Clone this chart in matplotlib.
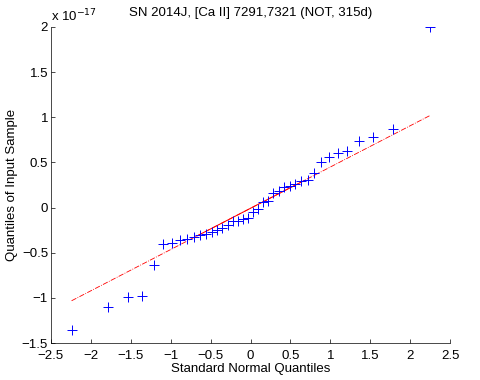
import numpy as np
import matplotlib
matplotlib.use('Agg')
import matplotlib.pyplot as plt

plt.rcParams['font.family'] = ['Liberation Sans', 'DejaVu Sans']

# normal quantiles for n = 40 samples, (i - 0.5)/n
x_q = [-2.241, -1.780, -1.534, -1.356, -1.213, -1.092, -0.984, -0.887, -0.798, -0.714,
       -0.636, -0.561, -0.489, -0.419, -0.352, -0.286, -0.221, -0.157, -0.094, -0.031,
       0.031, 0.094, 0.157, 0.221, 0.286, 0.352, 0.419, 0.489, 0.561, 0.636,
       0.714, 0.798, 0.887, 0.984, 1.092, 1.213, 1.356, 1.534, 1.780, 2.241]

# sorted sample, units of 1e-17
y_s = [-1.356, -1.097, -0.990, -0.974, -0.633, -0.404, -0.393, -0.363, -0.348, -0.330,
       -0.300, -0.289, -0.274, -0.244, -0.226, -0.196, -0.152, -0.145, -0.126, -0.115,
       -0.045, -0.015, 0.063, 0.070, 0.163, 0.181, 0.230, 0.244, 0.260, 0.300,
       0.303, 0.385, 0.510, 0.563, 0.607, 0.626, 0.733, 0.786, 0.874, 2.000]

xtick_labels = ['\u22122.5', '\u22122', '\u22121.5', '\u22121', '\u22120.5', '0',
                '0.5', '1', '1.5', '2', '2.5']
ytick_labels = ['\u22121.5', '\u22121', '\u22120.5', '0', '0.5', '1', '1.5', '2']

x_q = np.array(x_q)
y_s = np.array(y_s)

# reference line through the quartiles (matlab style)
q1 = (y_s[9] + y_s[10]) / 2
q3 = (y_s[29] + y_s[30]) / 2
z1, z3 = -0.6745, 0.6745
slope = (q3 - q1) / (z3 - z1)
line = lambda x: q1 + slope * (x - z1)

fig = plt.figure(figsize=(4.8, 3.8), dpi=100)
ax = fig.add_axes([0.106, 0.097, 0.832, 0.832])

xe = np.array([x_q.min(), x_q.max()])
ax.plot(xe, line(xe), color='red', linestyle='-.', linewidth=0.6)
xm = np.array([z1, z3])
ax.plot(xm, line(xm), color='red', linestyle='-', linewidth=0.7)
ax.plot(x_q, y_s, '+', color='#0000ff', markersize=7, markeredgewidth=0.7)

ax.set_xlim(-2.5, 2.5)
ax.set_ylim(-1.5, 2)
ax.set_xticks(np.arange(-2.5, 2.51, 0.5))
ax.set_yticks(np.arange(-1.5, 2.01, 0.5))
ax.set_xticklabels(xtick_labels)
ax.set_yticklabels(ytick_labels)
ax.tick_params(direction='in', length=3, width=0.5, labelsize=9.5)
ax.tick_params(axis='x', pad=5)
ax.tick_params(axis='y', pad=2)
for s in ['top', 'right']:
    ax.spines[s].set_visible(False)
for s in ['left', 'bottom']:
    ax.spines[s].set_linewidth(0.5)

ax.set_xlabel('Standard Normal Quantiles', fontsize=9.5, labelpad=1)
ax.set_ylabel('Quantiles of Input Sample', fontsize=9.5, labelpad=3)
ax.set_title('SN 2014J, [Ca II] 7291,7321 (NOT, 315d)', fontsize=9.5, pad=8)
ax.text(0.0, 1.008, 'x 10$^{\u221217}$', transform=ax.transAxes, fontsize=9.5,
        ha='left', va='bottom')

fig.savefig('out.png', dpi=100)
